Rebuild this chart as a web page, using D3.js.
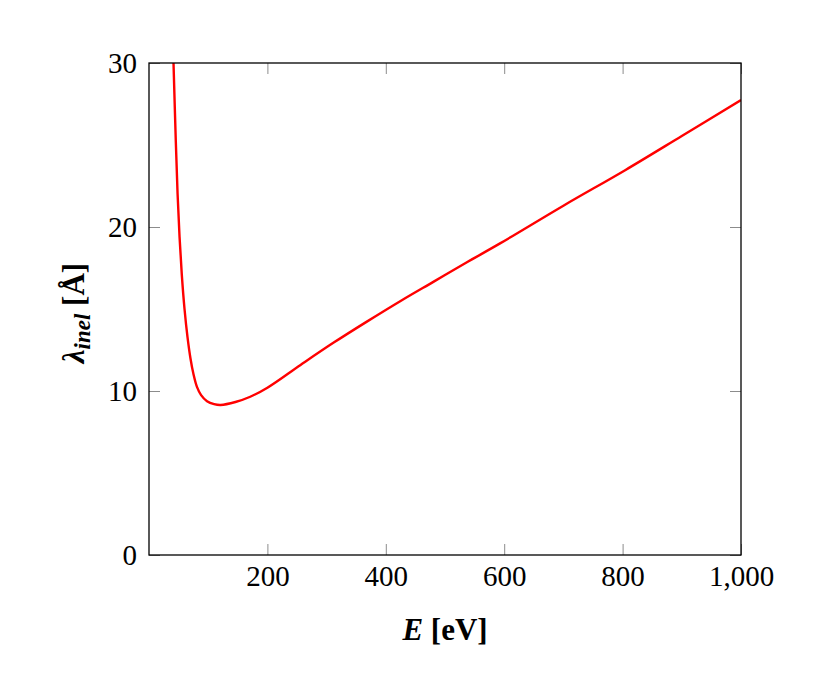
<!DOCTYPE html>
<html>
<head>
<meta charset="utf-8">
<script src="https://cdn.jsdelivr.net/npm/d3@7"></script>
<style>
  body { margin: 0; background: #fff; }
  svg text { font-family: "Liberation Serif", "DejaVu Serif", serif; }
</style>
</head>
<body>
<div id="chart"></div>
<script>
// Energy values [eV]
const energy = [41.4, 45.3, 48.3, 51.6, 55.4, 60, 65, 70, 75, 81, 88, 98, 110, 121, 146, 171, 200, 256, 312, 368, 425, 481, 537, 593, 700, 805, 900, 1000];
// Inelastic mean free path [Å]
const lambdaInel = [30, 25.2, 22.0, 19.4, 17.1, 15.0, 13.3, 12.0, 11.05, 10.25, 9.75, 9.38, 9.2, 9.15, 9.33, 9.65, 10.2, 11.59, 12.95, 14.23, 15.49, 16.67, 17.85, 19.0, 21.3, 23.48, 25.55, 27.74];

const xTicks = [200, 400, 600, 800, 1000];
const yTicks = [0, 10, 20, 30];

const width = 830, height = 697;
const margin = { left: 149, right: 89, top: 63, bottom: 142 };
const innerW = width - margin.left - margin.right;
const innerH = height - margin.top - margin.bottom;

const svg = d3.select('#chart')
  .append('svg')
  .attr('width', width)
  .attr('height', height);

const g = svg.append('g')
  .attr('transform', `translate(${margin.left},${margin.top})`);

const x = d3.scaleLinear().domain([0, 1000]).range([0, innerW]);
const y = d3.scaleLinear().domain([0, 30]).range([innerH, 0]);

const fmt = d3.format(',');
const tickLen = 11;

// Ticks on all four sides, pointing inward (pgfplots style)
const xAxisB = d3.axisBottom(x).tickValues(xTicks).tickSizeInner(-tickLen).tickSizeOuter(0).tickPadding(10).tickFormat(fmt);
const xAxisT = d3.axisTop(x).tickValues(xTicks).tickSizeInner(-tickLen).tickSizeOuter(0).tickFormat('');
const yAxisL = d3.axisLeft(y).tickValues(yTicks).tickSizeInner(-tickLen).tickSizeOuter(0).tickPadding(12).tickFormat(d3.format('d'));
const yAxisR = d3.axisRight(y).tickValues(yTicks).tickSizeInner(-tickLen).tickSizeOuter(0).tickFormat('');

function styleAxis(sel) {
  sel.select('.domain').remove();
  sel.selectAll('.tick line').attr('stroke', '#8c8c8c').attr('stroke-width', 1);
  sel.selectAll('.tick text')
    .attr('fill', '#000')
    .style('font-family', '"Liberation Serif", serif')
    .style('font-size', '29px');
}

g.append('g').attr('transform', `translate(0,${innerH})`).call(xAxisB).call(styleAxis);
g.append('g').call(xAxisT).call(styleAxis);
g.append('g').call(yAxisL).call(styleAxis);
g.append('g').attr('transform', `translate(${innerW},0)`).call(yAxisR).call(styleAxis);

// Clip the curve to the plot box
svg.append('defs').append('clipPath').attr('id', 'clip')
  .append('rect').attr('width', innerW).attr('height', innerH);

const points = energy.map((e, i) => ({ e: e, l: lambdaInel[i] }));

const line = d3.line()
  .x(d => x(d.e))
  .y(d => y(d.l))
  .curve(d3.curveCatmullRom.alpha(0.5));

g.append('path')
  .datum(points)
  .attr('clip-path', 'url(#clip)')
  .attr('fill', 'none')
  .attr('stroke', '#ff0000')
  .attr('stroke-width', 2.4)
  .attr('stroke-linejoin', 'round')
  .attr('d', line);

// Frame
g.append('rect')
  .attr('width', innerW)
  .attr('height', innerH)
  .attr('fill', 'none')
  .attr('stroke', '#000')
  .attr('stroke-width', 1.3);

// X label: E [eV]
const xl = svg.append('text')
  .attr('x', margin.left + innerW / 2)
  .attr('y', 640)
  .attr('text-anchor', 'middle')
  .style('font-size', '31px')
  .style('font-weight', 'bold');
xl.append('tspan').style('font-style', 'italic').text('E');
xl.append('tspan').text(' [eV]');

// Y label: lambda_inel [Å]
const yl = svg.append('text')
  .attr('transform', `translate(84,${margin.top + innerH / 2 + 4}) rotate(-90)`)
  .attr('text-anchor', 'middle')
  .style('font-size', '31px')
  .style('font-weight', 'bold');
yl.append('tspan').style('font-style', 'italic').text('λ');
yl.append('tspan').style('font-style', 'italic').style('font-size', '23px').attr('dy', 6).text('inel');
yl.append('tspan').attr('dy', -6).text(' [Å]');
</script>
</body>
</html>
